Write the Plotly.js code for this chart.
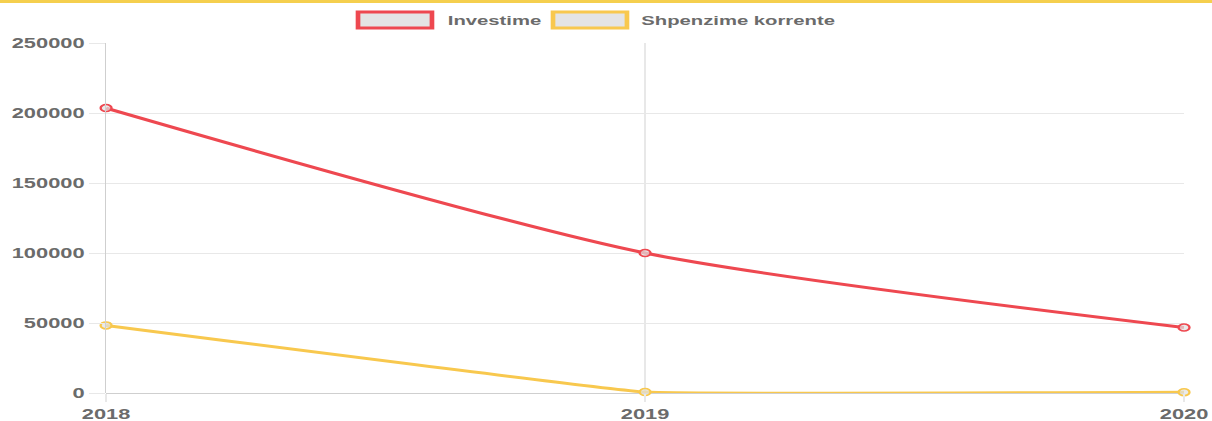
<!DOCTYPE html>
<html>
<head>
<meta charset="utf-8">
<script src="https://cdn.plot.ly/plotly-3.0.1.min.js"></script>
<style>
  html, body { margin: 0; padding: 0; background: #fff; overflow: hidden; }
  #topbar { position: absolute; left: 0; top: 0; width: 1212px; height: 3px; background: #f5cf4e; z-index: 2; }
  #wrap { position: absolute; left: 0; top: 0; width: 1212px; height: 421px; overflow: hidden; }
  #chart { width: 777px; height: 421px; transform: scaleX(1.56); transform-origin: 0 0; }
</style>
</head>
<body>
<div id="wrap"><div id="chart"></div></div>
<div id="topbar"></div>
<script>
const years = ['2018', '2019', '2020'];
const investime = [203500, 100000, 46800];
const shpenzime = [48300, 700, 600];
const seriesNames = ['Investime', 'Shpenzime korrente'];
const yTicks = [0, 50000, 100000, 150000, 200000, 250000];

const RED = '#ee4850';
const YEL = '#f8c84e';
const FILL = 'rgba(225,225,225,0.7)';
const FONT = {family: 'Liberation Sans, Arial, sans-serif', size: 14, color: '#6b6b6b', weight: 'bold'};
const LFONT = {family: 'Liberation Sans, Arial, sans-serif', size: 13, color: '#6b6b6b', weight: 'bold'};

const traces = [
  {x: years, y: investime, name: seriesNames[0], type: 'scatter', mode: 'lines+markers',
   line: {color: RED, width: 3, shape: 'spline', smoothing: 0.7},
   marker: {size: 7, color: FILL, line: {color: RED, width: 1.5}},
   showlegend: false, cliponaxis: false},
  {x: years, y: shpenzime, name: seriesNames[1], type: 'scatter', mode: 'lines+markers',
   line: {color: YEL, width: 3, shape: 'spline', smoothing: 0.2},
   marker: {size: 7, color: FILL, line: {color: YEL, width: 1.5}},
   showlegend: false, cliponaxis: false}
];

// custom Chart.js-style legend (wide boxes) in paper coordinates
const W = 777, ML = 68, MR = 18, MT = 43, MB = 28, H = 421;
const pw = W - ML - MR, ph = H - MT - MB;
const px = v => (v - ML) / pw;
const py = v => (H - MB - v) / ph;
const legendItems = [
  {box: [229.5, 276.9], text: 284.6, color: RED, label: seriesNames[0]},
  {box: [354.5, 401.9], text: 409.0, color: YEL, label: seriesNames[1]}
];
const shapes = legendItems.map(it => ({
  type: 'rect', xref: 'paper', yref: 'paper',
  x0: px(it.box[0]), x1: px(it.box[1]), y0: py(28), y1: py(12),
  fillcolor: '#e4e4e4', line: {color: it.color, width: 3}
}));
const annotations = legendItems.map(it => ({
  xref: 'paper', yref: 'paper', x: px(it.text), y: py(20),
  xanchor: 'left', yanchor: 'middle', showarrow: false,
  text: it.label, font: LFONT
}));

const layout = {
  width: W, height: H,
  margin: {l: ML, r: MR, t: MT, b: MB, pad: 0},
  paper_bgcolor: '#fff', plot_bgcolor: '#fff',
  font: FONT,
  showlegend: false,
  xaxis: {
    type: 'category', range: [0, 2], fixedrange: true,
    showgrid: true, gridcolor: '#e8e8e8', gridwidth: 1,
    ticks: 'outside', ticklen: 8, tickcolor: '#e8e8e8',
    showline: false, zeroline: false,
    tickfont: FONT
  },
  yaxis: {
    range: [0, 250000], tickvals: yTicks, tickformat: 'd', fixedrange: true,
    showgrid: true, gridcolor: '#e8e8e8', gridwidth: 1,
    ticks: 'outside', ticklen: 10, tickcolor: '#e8e8e8',
    showline: true, linecolor: '#cfcfcf', linewidth: 1,
    zeroline: true, zerolinecolor: '#cfcfcf', zerolinewidth: 1,
    tickfont: FONT
  },
  shapes: shapes,
  annotations: annotations
};

Plotly.newPlot('chart', traces, layout, {displayModeBar: false, staticPlot: true});
</script>
</body>
</html>
